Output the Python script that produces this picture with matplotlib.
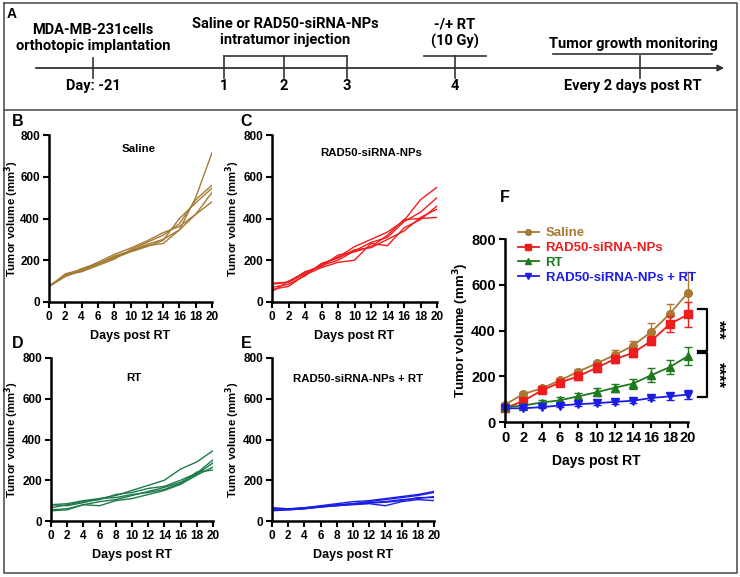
import numpy as np
import matplotlib.pyplot as plt

# ---- data ----
days = [0, 2, 4, 6, 8, 10, 12, 14, 16, 18, 20]

saline_mice = [
    [75, 128, 148, 180, 215, 245, 275, 300, 345, 500, 715],
    [72, 135, 155, 190, 228, 258, 292, 332, 362, 420, 480],
    [78, 125, 160, 185, 210, 240, 265, 295, 400, 475, 545],
    [76, 130, 145, 175, 205, 250, 285, 320, 375, 490, 560],
    [74, 122, 150, 182, 220, 245, 270, 280, 345, 420, 525],
]
rad50_mice = [
    [85, 95, 135, 180, 215, 265, 300, 335, 390, 490, 550],
    [50, 100, 140, 175, 200, 245, 285, 310, 385, 430, 500],
    [60, 75, 130, 165, 190, 200, 280, 270, 355, 395, 460],
    [70, 85, 125, 185, 210, 250, 260, 300, 340, 405, 445],
    [90, 95, 145, 170, 225, 240, 265, 320, 395, 400, 405],
]
rt_mice = [
    [80, 85, 100, 110, 125, 150, 175, 200, 255, 290, 345],
    [65, 80, 95, 105, 130, 140, 160, 170, 200, 235, 300],
    [55, 60, 80, 95, 105, 125, 145, 165, 190, 230, 285],
    [50, 55, 80, 75, 100, 110, 130, 150, 180, 225, 265],
    [80, 75, 90, 110, 115, 130, 140, 155, 185, 240, 250],
]
combo_mice = [
    [65, 60, 65, 75, 85, 95, 100, 110, 120, 130, 145],
    [60, 58, 65, 72, 80, 85, 95, 105, 115, 125, 140],
    [55, 55, 60, 70, 75, 85, 90, 95, 105, 110, 120],
    [50, 55, 60, 68, 75, 80, 85, 75, 95, 105, 100],
    [62, 60, 62, 70, 78, 82, 88, 92, 100, 115, 115],
]

# panel F: mean +/- error
saline_mean = [76, 122, 147, 182, 220, 256, 293, 334, 395, 472, 566]
saline_err = [6, 8, 8, 10, 10, 12, 20, 18, 37, 45, 90]
rad50_mean = [60, 92, 138, 172, 200, 237, 275, 302, 355, 428, 470]
rad50_err = [10, 10, 10, 10, 15, 20, 18, 20, 20, 35, 55]
rt_mean = [65, 72, 85, 95, 112, 130, 150, 168, 205, 240, 288]
rt_err = [8, 8, 10, 15, 15, 18, 18, 22, 30, 30, 38]
combo_mean = [60, 60, 65, 72, 78, 82, 88, 93, 105, 112, 120]
combo_err = [5, 5, 5, 6, 6, 6, 8, 8, 8, 15, 18]

group_names = ['Saline', 'RAD50-siRNA-NPs', 'RT', 'RAD50-siRNA-NPs + RT']
mice_colors = ['#A47B35', '#EE1C1C', '#1E7A4A', '#1C1CE8']
f_colors = ['#A87A32', '#EE1C1C', '#1F7A1F', '#1C1CE8']
f_markers = ['o', 's', '^', 'v']

timeline_top = ['MDA-MB-231cells\northotopic implantation',
                'Saline or RAD50-siRNA-NPs\nintratumor injection',
                '-/+ RT\n(10 Gy)', 'Tumor growth monitoring']
timeline_bottom = ['Day: -21', '1', '2', '3', '4', 'Every 2 days post RT']

W, H = 740, 577
plt.rcParams['font.family'] = ['Liberation Sans', 'DejaVu Sans']
fig = plt.figure(figsize=(7.4, 5.77), dpi=100)

# background layer in pixel coords: frames + timeline
bg = fig.add_axes([0, 0, 1, 1], zorder=-1)
bg.set_xlim(0, W)
bg.set_ylim(H, 0)
bg.axis('off')
bg.plot([4, 737, 737, 4, 4], [3, 3, 573, 573, 3], color='#555555', lw=1.2)
bg.plot([4, 737], [110, 110], color='#555555', lw=1.2)

nar = ['Roboto']
tl_y = 68
bg.annotate('', xy=(727, tl_y), xytext=(33, tl_y),
            arrowprops=dict(arrowstyle='-|>', color='#333333', lw=1.3, mutation_scale=9))
for x in [93, 224, 284, 347, 455, 640]:
    bg.plot([x, x], [56 if x != 93 else 58, 78], color='#333333', lw=1.2)
bg.plot([224, 347], [56, 56], color='#333333', lw=1.2)
bg.plot([424, 486], [56, 56], color='#333333', lw=1.2)
bg.plot([553, 712], [54, 54], color='#333333', lw=1.2)
top_x = [93, 285, 455, 633]
top_y = [38, 32, 33, 44]
for t, x, y in zip(timeline_top, top_x, top_y):
    bg.text(x, y, t, ha='center', va='center', fontsize=10.5, fontweight='bold',
            family=nar, linespacing=1.25)
bot_x = [93, 224, 284, 347, 455, 633]
for t, x in zip(timeline_bottom, bot_x):
    bg.text(x, 86, t, ha='center', va='center', fontsize=10.5, fontweight='bold', family=nar)
bg.text(12, 14, 'A', ha='center', va='center', fontsize=10, fontweight='bold')

for lab, x, y in [('B', 18, 121), ('C', 246, 121), ('D', 18, 344), ('E', 246, 344), ('F', 505, 198)]:
    bg.text(x, y, lab, ha='center', va='center', fontsize=11.5, fontweight='bold')


def rect(x0, x1, y0, y1):
    return [x0 / W, 1 - y1 / H, (x1 - x0) / W, (y1 - y0) / H]


def style_axes(ax, tsize, xlsize, ylsize, ylab_x, xlab_y):
    ax.set_xlim(0, 20)
    ax.set_ylim(0, 800)
    ax.set_xticks(days)
    ax.set_yticks([0, 200, 400, 600, 800])
    for s in ['top', 'right']:
        ax.spines[s].set_visible(False)
    for s in ['left', 'bottom']:
        ax.spines[s].set_linewidth(1.8)
    ax.tick_params(width=1.5, length=4.5, labelsize=tsize, pad=2)
    for lbl in ax.get_xticklabels() + ax.get_yticklabels():
        lbl.set_fontweight('bold')
    ax.set_xlabel('Days post RT', fontsize=xlsize, fontweight='bold')
    ax.set_ylabel('Tumor volume (mm$^\\mathbf{3}$)', fontsize=ylsize, fontweight='bold')
    ax.yaxis.label.set_va('center')
    ax.yaxis.set_label_coords(ylab_x, 0.5)
    ax.xaxis.set_label_coords(0.5, xlab_y)


def small_panel(px, mice, color, title, tx, ty):
    x0, x1, y0, y1 = px
    ax = fig.add_axes(rect(x0, x1, y0, y1))
    for m in mice:
        ax.plot(days, m, color=color, lw=1.0)
    # centre of the y label (pixels)
    lab_px = 233 if x0 > 200 else 12
    style_axes(ax, 8.5, 9, 8.2, -(x0 - lab_px) / (x1 - x0), -(28 / (y1 - y0)))
    ax.text(tx, ty, title, transform=ax.transAxes, ha='center', va='center',
            fontsize=8.2, fontweight='bold')
    return ax


small_panel((49, 212, 135, 302), saline_mice, mice_colors[0], group_names[0], 0.55, 0.915)
small_panel((272, 437, 135, 302), rad50_mice, mice_colors[1], group_names[1], 0.6, 0.895)
small_panel((51, 213, 358, 521), rt_mice, mice_colors[2], group_names[2], 0.51, 0.88)
small_panel((272, 434, 358, 521), combo_mice, mice_colors[3], group_names[3], 0.53, 0.87)

# panel F
axf = fig.add_axes(rect(505, 688, 239, 422))
means = [saline_mean, rad50_mean, rt_mean, combo_mean]
errs = [saline_err, rad50_err, rt_err, combo_err]
for name, mn, er, c, mk in zip(group_names, means, errs, f_colors, f_markers):
    axf.errorbar(days, mn, yerr=er, fmt='none', ecolor=c, elinewidth=1.0,
                 capsize=3, capthick=1.0, clip_on=False)
    axf.plot(days, mn, color=c, marker=mk, markersize=5.5, lw=1.3, label=name, clip_on=False)
style_axes(axf, 10.5, 10, 9.5, -(505 - 461) / 183, -32 / 183)
leg = axf.legend(loc='upper left', bbox_to_anchor=(0.07, 1.065), frameon=False,
                 handlelength=1.6, handletextpad=0.5, labelspacing=0.2, markerscale=0.75,
                 borderpad=0, borderaxespad=0, prop={'weight': 'bold', 'size': 9.5})
for t, c in zip(leg.get_texts(), f_colors):
    t.set_color(c)

# significance brackets
for (y0, y1), stars in [((494, 310), '***'), ((302, 109), '****')]:
    axf.plot([21.1, 22.1, 22.1, 21.1], [y0, y0, y1, y1], color='black', lw=1.6, clip_on=False)
    axf.text(23.2, (y0 + y1) / 2, stars, rotation=270, ha='center', va='center',
             fontsize=12, fontweight='bold', clip_on=False)

fig.savefig('out.png', dpi=100)
